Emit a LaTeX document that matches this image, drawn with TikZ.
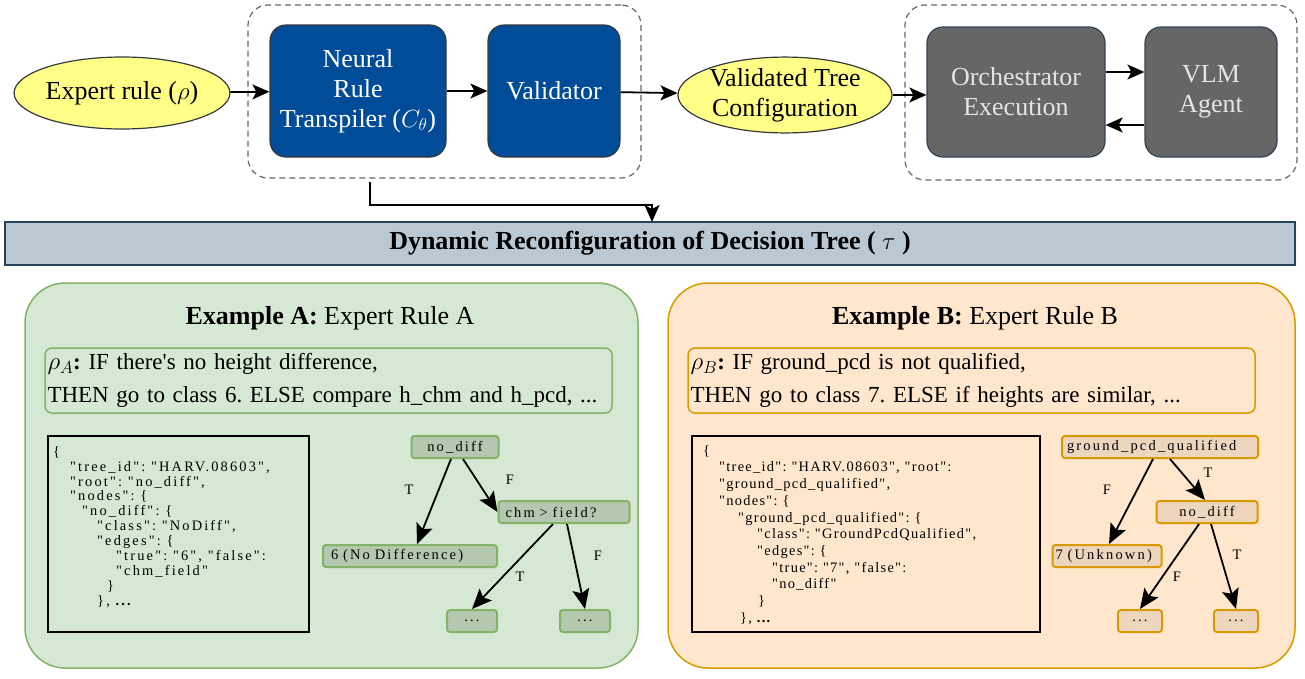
\documentclass[tikz,border=0pt]{standalone}
\usepackage{fontspec}
\setmainfont{Liberation Serif}
\newfontfamily\codefontA{Liberation Serif}[LetterSpace=15]
\newfontfamily\codefontB{Liberation Serif}[LetterSpace=9]
\newfontfamily\treefont{Liberation Serif}[LetterSpace=15]
\usetikzlibrary{positioning}
\usetikzlibrary{shapes.geometric}
\usetikzlibrary{arrows.meta}
\definecolor{ellfill}{HTML}{FFFF88}
\definecolor{edgedark}{HTML}{36393D}
\definecolor{transblue}{HTML}{004C99}
\definecolor{execgray}{HTML}{666666}
\definecolor{execedge}{HTML}{314354}
\definecolor{dynfill}{HTML}{BAC8D3}
\definecolor{dynedge}{HTML}{23445D}
\definecolor{greenfill}{HTML}{D5E8D4}
\definecolor{greenedge}{HTML}{82B366}
\definecolor{greennode}{HTML}{B4C8AF}
\definecolor{orangefill}{HTML}{FFE6CC}
\definecolor{orangeedge}{HTML}{D79B00}
\definecolor{orangenode}{HTML}{EED5BE}
\newcommand{\bigtxt}{\fontsize{26}{30}\selectfont}
\tikzset{%
  flow/.style = {line width=1.8pt,-{Stealth[length=17pt,width=15pt,inset=4pt]}},
  treearrow/.style = {line width=1.8pt,-{Stealth[length=20pt,width=17pt,inset=4pt]}},
  ell/.style = {ellipse,draw=edgedark,fill=ellfill,line width=1.2pt,
        inner sep=0pt,font=\bigtxt,align=center},
  proc/.style = {rectangle,rounded corners=16pt,draw=edgedark,fill=transblue,
        text=white,line width=1.2pt,font=\bigtxt,align=center,inner sep=0pt},
  exec/.style = {proc,fill=execgray,draw=execedge,text=white!90!black},
  grp/.style = {rectangle,rounded corners=20pt,draw=execgray,line width=1.2pt,
        dash pattern=on 6pt off 4pt,inner sep=0pt},
  panelA/.style = {rectangle,rounded corners=40pt,draw=greenedge,fill=greenfill,
        line width=1.5pt,inner sep=0pt},
  panelB/.style = {panelA,draw=orangeedge,fill=orangefill},
  rulebox/.style = {rectangle,rounded corners=7pt,line width=1.5pt,inner xsep=2.5pt,
        align=left,font=\fontsize{23}{33}\selectfont},
  codebox/.style = {rectangle,draw=black,line width=2pt,inner sep=0pt},
  tnA/.style = {rectangle,rounded corners=3pt,draw=greenedge,fill=greennode,
        line width=2pt,inner sep=0pt,minimum height=22pt,
        font=\treefont\fontsize{14.5}{16}\selectfont},
  tnB/.style = {tnA,draw=orangeedge,fill=orangenode},
  lbl/.style = {font=\fontsize{14.5}{16}\selectfont,inner sep=0pt}
}

\begin{document}
\frenchspacing
\begin{tikzpicture}[x=1pt,y=-1pt]
\useasboundingbox (0,0) rectangle (1305,678);
% top pipeline
\node[grp,minimum width=393pt,minimum height=173pt] (grpA) at (444.5,91.5) {};
\node[grp,minimum width=392pt,minimum height=175pt] (grpB) at (1101,92.5) {};
\node[ell,minimum width=210pt,minimum height=72pt] (exprule) at (122,93) {Expert rule ($\rho$)};
\node[proc,minimum width=176pt,minimum height=132pt] (transp) at (358,91)
    {Neural\\Rule\\Transpiler ($C_\theta$)};
\node[proc,minimum width=132pt,minimum height=132pt] (valid) at (554,91) {Validator};
\node[ell,minimum width=198pt,minimum height=75pt] (vtree) at (785,95)
    {Validated Tree\\Configuration};
\node[exec,minimum width=178pt,minimum height=130pt] (orch) at (1016,92)
    {Orchestrator\\Execution};
\node[exec,minimum width=132pt,minimum height=130pt] (vlm) at (1211,92) {VLM\\Agent};
\draw[flow] (exprule) -- (transp);
\draw[flow] (transp) -- (valid);
\draw[flow] (valid) -- (vtree);
\draw[flow] (vtree) -- (orch.west |- vtree);
\draw[flow] ([yshift=20pt]orch.east) -- ([yshift=20pt]vlm.west);
\draw[flow] ([yshift=-33pt]vlm.west) -- ([yshift=-33pt]orch.east);

% reconfiguration bar
\node[rectangle,draw=dynedge,fill=dynfill,line width=1.2pt,minimum width=1290pt,
    minimum height=43pt,font=\fontsize{26}{30}\selectfont\bfseries] (dynrec) at (650,243.5)
    {Dynamic Reconfiguration of Decision Tree ( $\tau$ )};
\coordinate (tap) at (370,182);
\coordinate (drop) at (652,222);
\draw[flow,line width=1.4pt] (tap) -- ++(0,23) -| (drop);

% example A
\node[panelA,minimum width=613pt,minimum height=385pt] (exA) at (331.5,475.5) {};
\node[font=\fontsize{26}{30}\selectfont] (titleA) at (330,318)
    {\textbf{Example A:} Expert Rule A};
\node[rulebox,draw=greenedge,fill=greenfill,minimum width=567pt,minimum height=65pt,
    text width=562pt] (ruleA) at (328.5,380.5)
    {$\rho_A$\textbf{:} IF there\textquotesingle s no height difference,\\
     THEN go to class 6. ELSE compare h\_chm and h\_pcd, ...};
\node[codebox,minimum width=261pt,minimum height=196pt] (boxA) at (178.5,534) {};
\node[anchor=north west,inner sep=0pt,align=left,
    font=\codefontA\fontsize{14.4}{14.9}\selectfont] (jsonA) at (53,446)
    {\{\\
     \hspace*{17pt}"tree\_id": "HARV.08603",\\
     \hspace*{17pt}"root": "no\_diff",\\
     \hspace*{17pt}"nodes": \{\\
     \hspace*{29pt}"no\_diff": \{\\
     \hspace*{44pt}"class": "NoDiff",\\
     \hspace*{44pt}"edges": \{\\
     \hspace*{63pt}"true": "6", "false":\\
     \hspace*{63pt}"chm\_field"\\
     \hspace*{54pt}\}\\
     \hspace*{44pt}\}, \textbf{...}};
\node[tnA,minimum width=87pt] (ndA) at (455,447) {no\_diff};
\node[tnA,minimum width=131pt,text width=117pt,align=left] (chmA) at (564,512) {chm > field?};
\node[tnA,minimum width=174pt,text width=158pt,align=left] (sixA) at (410,556) {6 (No Difference)};
\node[tnA,minimum width=50pt] (dotA1) at (472,621) {...};
\node[tnA,minimum width=50pt] (dotA2) at (585,621) {...};
\draw[treearrow] ([xshift=-4pt]ndA.south) -- ([xshift=7pt]sixA.north);
\draw[treearrow] ([xshift=8pt]ndA.south) -- (chmA.west);
\draw[treearrow] ([xshift=-11pt]chmA.south) -- (dotA1.north);
\draw[treearrow] ([xshift=3pt]chmA.south) -- (dotA2.north);
\node[lbl] (tA1) at (409,490) {T};
\node[lbl] (fA1) at (510,480) {F};
\node[lbl] (tA2) at (520,577) {T};
\node[lbl] (fA2) at (598,556) {F};

% example B
\node[panelB,minimum width=627pt,minimum height=385pt] (exB) at (981.5,475.5) {};
\node[font=\fontsize{26}{30}\selectfont] (titleB) at (975,318)
    {\textbf{Example B:} Expert Rule B};
\node[rulebox,draw=orangeedge,fill=orangefill,minimum width=567pt,minimum height=65pt,
    text width=562pt] (ruleB) at (971.5,380.5)
    {$\rho_B$\textbf{:} IF ground\_pcd is not qualified,\\
     THEN go to class 7. ELSE if heights are similar, ...};
\node[codebox,minimum width=348pt,minimum height=196pt] (boxB) at (866,534) {};
\node[anchor=north west,inner sep=0pt,align=left,
    font=\codefontB\fontsize{14.4}{16.7}\selectfont] (jsonB) at (703,445)
    {\{\\
     \hspace*{16pt}"tree\_id": "HARV.08603", "root":\\
     \hspace*{16pt}"ground\_pcd\_qualified",\\
     \hspace*{16pt}"nodes": \{\\
     \hspace*{35pt}"ground\_pcd\_qualified": \{\\
     \hspace*{54pt}"class": "GroundPcdQualified",\\
     \hspace*{54pt}"edges": \{\\
     \hspace*{69pt}"true": "7", "false":\\
     \hspace*{69pt}"no\_diff"\\
     \hspace*{55pt}\}\\
     \hspace*{37pt}\}, \textbf{...}};
\node[tnB,minimum width=196pt,text width=186pt,align=left] (gpqB) at (1160,447) {ground\_pcd\_qualified};
\node[tnB,minimum width=101pt] (ndB) at (1207,512) {no\_diff};
\node[tnB,minimum width=109pt,text width=103pt,align=left] (sevB) at (1107,556) {7 (Unknown)};
\node[tnB,minimum width=44pt] (dotB1) at (1140,621) {...};
\node[tnB,minimum width=44pt] (dotB2) at (1236,621) {...};
\draw[treearrow] ([xshift=-7pt]gpqB.south) -- ([xshift=2pt]sevB.north);
\draw[treearrow] ([xshift=10pt]gpqB.south) -- ([xshift=-2pt]ndB.north);
\draw[treearrow] ([xshift=-8pt]ndB.south) -- (dotB1.north);
\draw[treearrow] ([xshift=4pt]ndB.south) -- (dotB2.north);
\node[lbl] (fB1) at (1107,490) {F};
\node[lbl] (tB1) at (1208,473) {T};
\node[lbl] (fB2) at (1177,577) {F};
\node[lbl] (tB2) at (1237,555) {T};
\end{tikzpicture}
\end{document}
